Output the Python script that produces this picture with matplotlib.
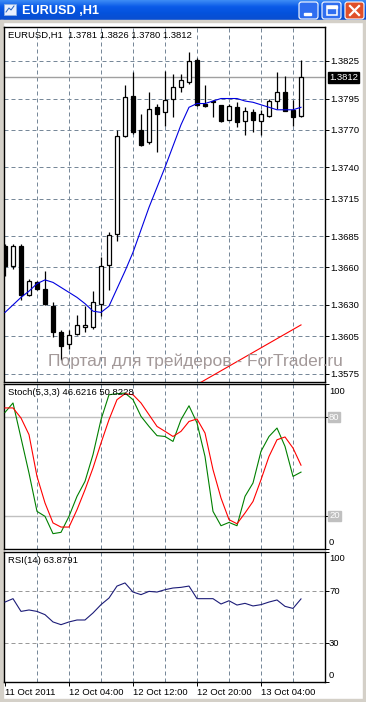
import numpy as np
import matplotlib
matplotlib.use('Agg')
import matplotlib.pyplot as plt
from matplotlib.patches import Rectangle, FancyBboxPatch
from matplotlib.colors import LinearSegmentedColormap

plt.rcParams['font.family'] = ['Liberation Sans', 'DejaVu Sans']

W, H = 366, 702

# EURUSD H1 candles
opens = [1.3677, 1.3661, 1.3677, 1.3638, 1.3648, 1.3643, 1.3629, 1.3608, 1.3599, 1.3607,
         1.3612, 1.3612, 1.3631, 1.3662, 1.3687, 1.3765, 1.3797, 1.3770, 1.3760, 1.3788,
         1.3784, 1.3795, 1.3804, 1.3808, 1.3826, 1.3791, 1.3793, 1.3790, 1.3778, 1.3788,
         1.3777, 1.3784, 1.3777, 1.3781, 1.3793, 1.3800, 1.3786, 1.3781]
highs = [1.3679, 1.3679, 1.3679, 1.3651, 1.3649, 1.3657, 1.3632, 1.3610, 1.3610, 1.3622,
         1.3629, 1.3641, 1.3668, 1.3688, 1.3770, 1.3806, 1.3816, 1.3783, 1.3800, 1.3791,
         1.3817, 1.3815, 1.3815, 1.3832, 1.3827, 1.3806, 1.3794, 1.3790, 1.3791, 1.3792,
         1.3788, 1.3787, 1.3786, 1.3795, 1.3816, 1.3813, 1.3794, 1.3826]
lows = [1.3653, 1.3659, 1.3634, 1.3637, 1.3642, 1.3630, 1.3604, 1.3586, 1.3595, 1.3606,
        1.3608, 1.3611, 1.3621, 1.3642, 1.3681, 1.3764, 1.3767, 1.3757, 1.3759, 1.3752,
        1.3773, 1.3780, 1.3800, 1.3807, 1.3789, 1.3788, 1.3780, 1.3776, 1.3778, 1.3772,
        1.3766, 1.3768, 1.3766, 1.3780, 1.3787, 1.3785, 1.3773, 1.3780]
closes = [1.3661, 1.3677, 1.3638, 1.3649, 1.3643, 1.3631, 1.3608, 1.3597, 1.3606, 1.3614,
          1.3614, 1.3632, 1.3661, 1.3686, 1.3765, 1.3796, 1.3768, 1.3758, 1.3787, 1.3783,
          1.3794, 1.3804, 1.3810, 1.3825, 1.3790, 1.3789, 1.3792, 1.3777, 1.3789, 1.3776,
          1.3785, 1.3778, 1.3783, 1.3793, 1.3800, 1.3785, 1.3780, 1.3812]
ma_vals = [1.3624, 1.3630, 1.3636, 1.3641, 1.3647, 1.3650, 1.3648, 1.3644, 1.3640, 1.3636,
           1.3631, 1.3625, 1.3624, 1.3629, 1.3643, 1.3657, 1.3672, 1.3690, 1.3708, 1.3724,
           1.3740, 1.3757, 1.3774, 1.3788, 1.3791, 1.3791, 1.3793, 1.3795, 1.3795, 1.3795,
           1.3793, 1.3792, 1.3790, 1.3788, 1.3786, 1.3786, 1.3786, 1.3788]
trend_bars = [22, 37]
trend_prices = [1.3559, 1.3614]
bid = 1.3812
price_ticks = [1.3825, 1.3795, 1.3770, 1.3740, 1.3715, 1.3685, 1.3660, 1.3630, 1.3605, 1.3575]

stoch_main = [82.8, 88.5, 67.3, 46.0, 22.8, 19.8, 9.3, 10.1, 19.8, 31.9,
              41.0, 57.2, 78.4, 93.5, 94.1, 94.5, 90.5, 80.4, 74.3, 68.7,
              68.2, 65.2, 78.4, 86.8, 76.4, 56.1, 22.8, 14.1, 16.1, 14.1,
              31.9, 40.0, 59.2, 68.2, 73.3, 62.2, 44.0, 46.6]
stoch_signal = [85.5, 85.5, 79.4, 69.3, 44.0, 27.9, 15.8, 13.3, 13.3, 23.8,
                35.9, 49.1, 64.2, 78.4, 90.5, 94.1, 93.5, 88.5, 81.4, 74.3,
                71.3, 68.2, 71.3, 77.3, 78.8, 70.3, 48.1, 30.9, 17.8, 15.3,
                21.8, 28.8, 42.0, 56.1, 66.2, 67.9, 61.2, 50.8]
rsi_vals = [61.5, 64.1, 54.3, 55.4, 54.3, 51.8, 46.2, 44.1, 46.2, 47.7,
            47.7, 53.1, 59.5, 64.6, 73.8, 76.2, 69.2, 67.2, 69.7, 69.2,
            71.0, 72.3, 72.8, 73.8, 64.1, 64.1, 64.1, 60.0, 62.5, 59.2,
            60.5, 58.5, 59.5, 61.5, 63.1, 58.2, 56.6, 63.9]

time_labels = ['11 Oct 2011', '12 Oct 04:00', '12 Oct 12:00', '12 Oct 20:00', '13 Oct 04:00']
time_label_bars = [0, 8, 16, 24, 32]
grid_bars = [4, 8, 12, 16, 20, 24, 28, 32, 36]

GRID = '#778899'
FS = 6.8


def px_rect(x0, y0, x1, y1):
    return [x0 / W, 1 - y1 / H, (x1 - x0) / W, (y1 - y0) / H]


fig = plt.figure(figsize=(W / 100, H / 100), dpi=100, facecolor='white')

# ---- window chrome ----
bg = fig.add_axes([0, 0, 1, 1], zorder=-5)
bg.set_xlim(0, W)
bg.set_ylim(H, 0)
bg.axis('off')
grad = np.linspace(0, 1, 40).reshape(-1, 1)
title_cmap = LinearSegmentedColormap.from_list('xp', ['#3d8cf5', '#0a5ae8', '#0452dc', '#0a4ed0'])
bg.imshow(grad, cmap=title_cmap, extent=(0, W, 20, 0), aspect='auto')
bg.add_patch(Rectangle((0, 20), W, 2, color='#d4d0c8'))
bg.add_patch(Rectangle((0, 20), 3, H - 20, color='#d4d0c8'))
bg.add_patch(Rectangle((W - 3, 20), 3, H - 20, color='#d4d0c8'))
bg.add_patch(Rectangle((0, H - 3), W, 3, color='#d4d0c8'))
# icon
bg.add_patch(Rectangle((4, 4), 12, 11, facecolor='#e8f0ff', edgecolor='#8fb0e0', lw=0.6))
bg.plot([6, 9, 11, 14], [12, 8, 10, 6], color='#2060c0', lw=0.7)
bg.text(22, 11, 'EURUSD ,H1', color='white', fontsize=9.2, fontweight='bold', va='center')
# buttons
for bx, col in [(299, '#2f6ef0'), (322, '#2f6ef0'), (345, '#e0502a')]:
    bg.add_patch(FancyBboxPatch((bx, 2), 19, 17, boxstyle='round,pad=0,rounding_size=2.5',
                                facecolor=col, edgecolor='white', lw=0.8))
bg.add_patch(Rectangle((304, 13), 7, 2.2, color='white'))
bg.add_patch(Rectangle((327, 6), 10, 9, facecolor='none', edgecolor='white', lw=1.1))
bg.add_patch(Rectangle((327, 6), 10, 1.8, color='white'))
bg.plot([350, 359], [6, 15], color='white', lw=1.6)
bg.plot([350, 359], [15, 6], color='white', lw=1.6)


def style_panel(ax):
    for s in ax.spines.values():
        s.set_linewidth(1.0)
        s.set_color('black')
    ax.set_xlim(-0.125, 40)
    for g in grid_bars:
        ax.axvline(g, color=GRID, lw=0.72, ls=(0, (4, 3)), zorder=1)
    ax.yaxis.tick_right()
    ax.tick_params(axis='y', length=3, width=0.7, pad=1, labelsize=FS)
    ax.tick_params(axis='x', length=0, labelbottom=False)


x = np.arange(len(opens))

# ---- price panel ----
ax = fig.add_axes(px_rect(4, 27, 325, 382))
style_panel(ax)
ax.set_ylim(1.3825 - 321 / 12508, 1.3825 + 34 / 12508)
ax.set_yticks(price_ticks)
ax.set_yticklabels(['%.4f' % p for p in price_ticks])
for p in price_ticks:
    ax.axhline(p, color=GRID, lw=0.72, ls=(0, (4, 3)), zorder=1)
ax.axhline(bid, color='#a0a0a0', lw=1.0, zorder=1.5)
ax.annotate('%.4f' % bid, xy=(1, bid), xycoords=('axes fraction', 'data'),
            xytext=(4, 0), textcoords='offset pixels', va='center', ha='left',
            fontsize=FS, color='white',
            bbox=dict(boxstyle='square,pad=0.12', facecolor='black', edgecolor='black'),
            annotation_clip=False)

o = np.array(opens)
c = np.array(closes)
ax.vlines(x, lows, highs, color='black', lw=0.9, zorder=3)
bottoms = np.minimum(o, c)
heights = np.maximum(np.abs(c - o), 0.00004)
colors = ['white' if cc >= oo else 'black' for oo, cc in zip(o, c)]
ax.bar(x, heights, bottom=bottoms, width=0.5, color=colors, edgecolor='black', lw=0.9, zorder=4)
ax.plot(x, ma_vals, color='#0000e0', lw=0.8, zorder=5)
ax.plot(trend_bars, trend_prices, color='#ff0000', lw=0.8, zorder=5)

info = 'EURUSD,H1  %.4f %.4f %.4f %.4f' % (opens[-1], highs[-1], lows[-1], closes[-1])
ax.annotate(info, xy=(0, 1), xycoords='axes fraction', xytext=(4, -4),
            textcoords='offset pixels', va='top', ha='left', fontsize=FS, zorder=6)
ax.text(48, 361, 'Портал для трейдеров - ForTrader.ru', transform=bg.transData,
        fontsize=12.5, color='#a39999', va='center', ha='left', zorder=10)

# ---- stochastic panel ----
ax2 = fig.add_axes(px_rect(4, 384, 325, 549))
style_panel(ax2)
ax2.set_ylim(0, 100)
ax2.set_yticks([0, 20, 80, 100])
ax2.set_yticklabels([])
for lv in [20, 80]:
    ax2.axhline(lv, color='#c0c0c0', lw=1.0, zorder=1.5)
    ax2.annotate(str(lv), xy=(1, lv), xycoords=('axes fraction', 'data'), xytext=(4, 0),
                 textcoords='offset pixels', va='center', ha='left', fontsize=FS, color='white',
                 bbox=dict(boxstyle='square,pad=0.1', facecolor='#c0c0c0', edgecolor='#c0c0c0'),
                 annotation_clip=False)
ax2.annotate('100', xy=(1, 1), xycoords='axes fraction', xytext=(4, -3),
             textcoords='offset pixels', va='top', ha='left', fontsize=FS)
ax2.annotate('0', xy=(1, 0), xycoords='axes fraction', xytext=(4, 2),
             textcoords='offset pixels', va='bottom', ha='left', fontsize=FS)
ax2.plot(x, stoch_main, color='#008000', lw=0.8, zorder=4)
ax2.plot(x, stoch_signal, color='#ff0000', lw=0.8, zorder=4)
ax2.annotate('Stoch(5,3,3) %.4f %.4f' % (46.6216, 50.8228), xy=(0, 1), xycoords='axes fraction',
             xytext=(4, -4), textcoords='offset pixels', va='top', ha='left', fontsize=FS, zorder=6)

# ---- RSI panel ----
ax3 = fig.add_axes(px_rect(4, 552, 325, 682))
style_panel(ax3)
ax3.set_ylim(0, 100)
ax3.set_yticks([0, 30, 70, 100])
ax3.set_yticklabels([])
for lv in [30, 70]:
    ax3.axhline(lv, color='#999999', lw=0.72, ls=(0, (4, 3)), zorder=1.5)
    ax3.annotate(str(lv), xy=(1, lv), xycoords=('axes fraction', 'data'), xytext=(4, 0),
                 textcoords='offset pixels', va='center', ha='left', fontsize=FS,
                 annotation_clip=False)
ax3.annotate('100', xy=(1, 1), xycoords='axes fraction', xytext=(4, -2),
             textcoords='offset pixels', va='top', ha='left', fontsize=FS)
ax3.annotate('0', xy=(1, 0), xycoords='axes fraction', xytext=(4, 2),
             textcoords='offset pixels', va='bottom', ha='left', fontsize=FS)
ax3.plot(x, rsi_vals, color='#1c1c78', lw=0.8, zorder=4)
ax3.annotate('RSI(14) %.4f' % 63.8791, xy=(0, 1), xycoords='axes fraction',
             xytext=(4, -4), textcoords='offset pixels', va='top', ha='left', fontsize=FS, zorder=6)

ax3.set_xticks(time_label_bars)
ax3.set_xticklabels(time_labels, ha='left')
ax3.tick_params(axis='x', length=3, width=0.7, pad=1.5, labelsize=FS, labelbottom=True)

fig.savefig('out.png', dpi=100, facecolor='white')
